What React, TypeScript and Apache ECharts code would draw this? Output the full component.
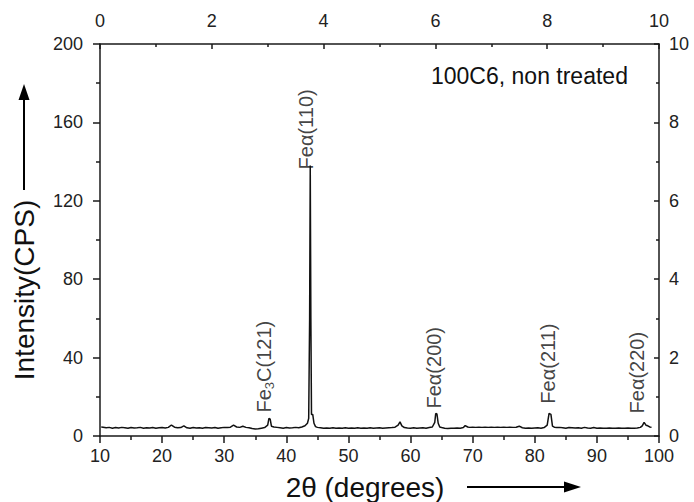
import React, { useEffect, useRef } from "react";
import * as echarts from "echarts";

// 2θ (degrees) and intensity (CPS)
const twoTheta = [
  10.2, 10.5, 11, 11.5, 12, 12.5, 13, 13.5, 14, 14.5, 15, 15.5, 16, 16.5, 17, 17.5, 18, 18.5, 19, 19.5,
  20, 20.5, 21, 21.5, 22, 22.5, 23, 23.5, 24, 24.5, 25, 25.5, 26, 26.5, 27, 27.5, 28, 28.5, 29, 29.5,
  30, 30.5, 31, 31.5, 32, 32.5, 33, 33.5, 34, 34.5, 35, 35.5, 36, 36.5, 37, 37.2, 37.4, 37.6, 38, 38.5,
  39, 39.5, 40, 40.5, 41, 41.5, 42, 42.5, 43, 43.4, 43.6, 43.75, 43.85, 43.95, 44.05, 44.25, 44.45, 44.7, 45, 45.5,
  46, 46.5, 47, 47.5, 48, 48.5, 49, 49.5, 50, 50.5, 51, 51.5, 52, 52.5, 53, 53.5, 54, 54.5, 55, 55.5,
  56, 56.5, 57, 57.5, 58, 58.3, 58.6, 59, 59.5, 60, 60.5, 61, 61.5, 62, 62.5, 63, 63.5, 63.9, 64.05, 64.25,
  64.45, 64.7, 65, 65.5, 66, 66.5, 67, 67.5, 68, 68.5, 68.8, 69.2, 69.5, 70, 70.5, 71, 71.5, 72, 72.5, 73,
  73.5, 74, 74.5, 75, 75.5, 76, 76.5, 77, 77.5, 78, 78.5, 79, 79.5, 80, 80.5, 81, 81.5, 82, 82.3, 82.6,
  82.85, 83.2, 83.5, 84, 84.5, 85, 85.5, 86, 86.5, 87, 87.5, 88, 88.5, 89, 89.5, 90, 90.5, 91, 91.5, 92,
  92.5, 93, 93.5, 94, 94.5, 95, 95.5, 96, 96.5, 97, 97.3, 97.6, 97.9, 98.2, 98.5, 98.8,
];
const intensity = [
  4.6, 4.5, 4.2, 4.4, 4.0, 4.3, 4.1, 4.4, 4.2, 4.0, 4.3, 4.1, 4.2, 4.4, 4.0, 4.2, 4.1, 4.3, 4.0, 4.2,
  4.3, 4.1, 4.4, 5.6, 4.5, 4.2, 4.3, 5.2, 4.2, 4.0, 4.3, 4.1, 4.2, 4.0, 4.3, 4.2, 4.1, 4.3, 4.0, 4.2,
  4.4, 4.3, 4.5, 5.5, 4.6, 4.4, 5.0, 4.4, 4.2, 3.8, 3.6, 3.7, 4.0, 4.3, 5.5, 9.0, 8.6, 5.0, 4.6, 4.4,
  4.2, 4.0, 4.3, 4.1, 4.2, 4.4, 4.2, 4.6, 5.2, 6.5, 9.0, 60, 138, 60, 11.0, 11.0, 6.5, 4.8, 4.4, 4.2,
  3.9, 4.1, 4.0, 4.2, 3.9, 4.1, 4.0, 4.2, 4.0, 4.1, 3.9, 4.2, 4.0, 4.1, 3.9, 4.2, 4.0, 4.1, 4.2, 4.0,
  4.1, 4.2, 4.3, 4.5, 5.5, 7.2, 5.2, 4.3, 4.1, 4.0, 4.2, 3.9, 4.1, 4.2, 4.0, 4.3, 4.6, 7.0, 11.5, 11.2,
  6.5, 4.6, 4.3, 4.0, 3.8, 4.0, 3.9, 4.1, 4.0, 4.3, 5.3, 4.6, 4.4, 4.5, 4.4, 4.5, 4.4, 4.5, 4.4, 4.5,
  4.4, 4.5, 4.4, 4.5, 4.4, 4.5, 4.4, 4.5, 5.0, 4.2, 4.0, 4.1, 3.9, 4.1, 4.2, 4.0, 4.3, 5.5, 11.5, 11.0,
  5.0, 4.4, 4.3, 4.4, 4.2, 4.0, 4.3, 4.2, 4.1, 4.2, 4.0, 4.4, 4.1, 4.0, 4.3, 4.0, 4.1, 3.9, 4.0, 4.1,
  3.9, 4.0, 4.1, 3.9, 4.0, 4.1, 3.9, 4.0, 4.1, 4.4, 5.2, 7.0, 5.5, 5.2, 4.6, 4.4,
];

// Peak annotations: anchor (2θ, CPS) at the start of each vertical label
const peakLabelX = [36.35, 43.1, 63.7, 82.1, 96.4];
const peakLabelY = [12.0, 136, 14.0, 16.5, 11.5];
const peakLabelText = [
  "{a|Fe}{s|3}{a|C(121)}",
  "{a|Feα(110)}",
  "{a|Feα(200)}",
  "{a|Feα(211)}",
  "{a|Feα(220)}",
];

const bottomRange = [10, 100, 10];
const topRange = [0, 10, 2];
const leftRange = [0, 200, 40];
const rightRange = [0, 10, 2];

const FONT = "'Liberation Sans', Arial, sans-serif";
const INK = "#1a1a1a";

function axisParts(inside: boolean, len: number, minorLen: number, margin: number) {
  return {
    axisLine: { show: true, onZero: false, lineStyle: { color: INK, width: 1.5 } },
    axisTick: { show: true, inside, length: len, lineStyle: { color: INK, width: 1.5 } },
    minorTick: { show: true, splitNumber: 2, length: minorLen, lineStyle: { color: INK, width: 1.5 } },
    axisLabel: { show: true, color: "#222", fontSize: 18, fontFamily: FONT, margin },
    splitLine: { show: false },
    minorSplitLine: { show: false },
  };
}

export default function App() {
  const ref = useRef<HTMLDivElement>(null);
  useEffect(() => {
    if (!ref.current) return;
    const chart = echarts.init(ref.current, undefined, { renderer: "svg" });
    const option: any = {
      animation: false,
      backgroundColor: "#ffffff",
      grid: { left: 100, right: 35, top: 44, height: 392, containLabel: false },
      xAxis: [
        {
          type: "value",
          position: "bottom",
          min: bottomRange[0],
          max: bottomRange[1],
          interval: bottomRange[2],
          ...axisParts(false, 7, 4, 11),
        },
        {
          type: "value",
          position: "top",
          min: topRange[0],
          max: topRange[1],
          interval: topRange[2],
          ...axisParts(true, 5, 3, 14),
        },
      ],
      yAxis: [
        {
          type: "value",
          position: "left",
          min: leftRange[0],
          max: leftRange[1],
          interval: leftRange[2],
          ...axisParts(false, 7, 4, 17),
        },
        {
          type: "value",
          position: "right",
          min: rightRange[0],
          max: rightRange[1],
          interval: rightRange[2],
          ...axisParts(true, 5, 3, 10),
        },
      ],
      series: [
        {
          name: "100C6, non treated",
          type: "line",
          xAxisIndex: 0,
          yAxisIndex: 0,
          data: twoTheta.map((t, i) => [t, intensity[i]]),
          showSymbol: false,
          symbol: "none",
          lineStyle: { color: "#111", width: 1.5 },
          silent: true,
          z: 3,
        },
        {
          name: "peaks",
          type: "scatter",
          xAxisIndex: 0,
          yAxisIndex: 0,
          symbolSize: 0,
          silent: true,
          data: peakLabelX.map((x, i) => [x, peakLabelY[i]]),
          label: {
            show: true,
            position: "inside",
            rotate: 90,
            align: "left",
            verticalAlign: "middle",
            formatter: (p: any) => peakLabelText[p.dataIndex],
            rich: {
              a: { fontSize: 20, lineHeight: 24, color: "#111", fontFamily: FONT },
              s: { fontSize: 13, lineHeight: 13, color: "#111", fontFamily: FONT, verticalAlign: "bottom" },
            },
          },
          z: 4,
        },
      ],
      graphic: [
        {
          type: "text",
          left: 431,
          top: 64,
          style: { text: "100C6, non treated", fontSize: 23, fontFamily: FONT, fill: "#111" },
        },
        {
          type: "text",
          x: 24,
          y: 290,
          rotation: Math.PI / 2,
          style: {
            text: "Intensity(CPS)",
            fontSize: 28,
            fontFamily: FONT,
            fill: "#111",
            align: "center",
            verticalAlign: "middle",
          },
        },
        {
          type: "line",
          shape: { x1: 24, y1: 190, x2: 24, y2: 98 },
          style: { stroke: "#000", lineWidth: 2 },
        },
        {
          type: "polygon",
          shape: { points: [[24, 84], [18.5, 100], [29.5, 100]] },
          style: { fill: "#000" },
        },
        {
          type: "text",
          x: 365,
          y: 487,
          style: {
            text: "2θ (degrees)",
            fontSize: 28,
            fontFamily: FONT,
            fill: "#111",
            align: "center",
            verticalAlign: "middle",
          },
        },
        {
          type: "line",
          shape: { x1: 467, y1: 487, x2: 566, y2: 487 },
          style: { stroke: "#000", lineWidth: 2 },
        },
        {
          type: "polygon",
          shape: { points: [[581, 487], [564, 481.5], [564, 492.5]] },
          style: { fill: "#000" },
        },
      ],
    };
    chart.setOption(option);
    return () => chart.dispose();
  }, []);
  return (
    <div
      ref={ref}
      style={{ position: "absolute", left: 0, top: 0, width: 694, height: 502, background: "#fff" }}
    />
  );
}
